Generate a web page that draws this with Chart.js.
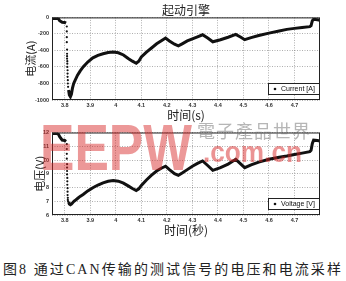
<!DOCTYPE html>
<html>
<head>
<meta charset="utf-8">
<script src="https://cdn.jsdelivr.net/npm/chart.js@4.4.1/dist/chart.umd.min.js"></script>
<style>
  body { margin: 0; width: 346px; height: 281px; overflow: hidden; position: relative; background: #fff; }
  canvas { position: absolute; left: 0; }
  #current { top: 0; }
  #voltage { top: 124px; }
  .wm { position: absolute; white-space: nowrap; pointer-events: none; transform-origin: 0 0; line-height: 1; }
  #eepw { left: 40px; top: 110px; font: bold 65px 'Liberation Sans', sans-serif; color: rgba(215, 40, 40, 0.48); }
  #cn { left: 197px; top: 117px; font: 18px 'Noto Sans CJK TC', sans-serif; letter-spacing: 1px; color: rgba(110, 110, 110, 0.5); }
  #dotcom { left: 203px; top: 135px; font: bold 30px 'Liberation Sans', sans-serif; color: rgba(215, 40, 40, 0.5); }
  #caption { position: absolute; left: 3px; top: 258px; white-space: nowrap; line-height: 1;
    font: 14px 'Liberation Serif', 'Noto Sans CJK SC', serif; color: #222; }
</style>
</head>
<body>
<canvas id="current" width="346" height="124"></canvas>
<canvas id="voltage" width="346" height="118"></canvas>
<div class="wm" id="eepw">EEPW</div>
<div class="wm" id="cn">電子產品世界</div>
<div class="wm" id="dotcom">.com.cn</div>
<div id="caption">图8 通过CAN传输的测试信号的电压和电流采样</div>
<script>
// sampled time axis (s), null marks the fast drop that only shows single samples
const timeS = [3.75, 3.76, 3.77, 3.775, 3.78, 3.79, 3.80, 3.805, 3.81,
  3.815, 3.818, 3.822, 3.826, 3.83, 3.835, 3.84, 3.85, 3.86, 3.872,
  3.89, 3.91, 3.93, 3.95, 3.97, 3.99, 4.01, 4.03, 4.05, 4.065,
  4.08, 4.09, 4.10, 4.12, 4.14, 4.16, 4.18, 4.195, 4.21, 4.23,
  4.245, 4.26, 4.28, 4.30, 4.32, 4.34, 4.36, 4.38, 4.41, 4.44,
  4.47, 4.49, 4.505, 4.53, 4.56, 4.60, 4.64, 4.67, 4.70, 4.73,
  4.76, 4.765, 4.77, 4.775, 4.79, 4.80];
const currentA = [-12, -12, -14, -16, -40, -60, -62, -70, null,
  -880, -940, -960, -930, -860, -800, -765, -700, -650, -600,
  -540, -490, -460, -440, -425, -420, -428, -455, -500, -530,
  -555, -530, -480, -420, -370, -320, -280, -250, -285, -325,
  -345, -320, -285, -260, -235, -210, -250, -295, -270, -240,
  -205, -240, -270, -245, -220, -190, -165, -145, -133, -122,
  -112, -100, -40, -22, -28, -35];
const voltageV = [11.93, 11.93, 11.92, 11.88, 11.7, 11.45, 11.42, 11.35, null,
  6.95, 6.8, 6.75, 6.8, 6.88, 6.98, 7.05, 7.2, 7.35, 7.49,
  7.75, 7.98, 8.18, 8.34, 8.45, 8.5, 8.46, 8.32, 8.1, 7.93,
  7.78, 7.9, 8.15, 8.55, 8.9, 9.2, 9.42, 9.55, 9.3, 9.0,
  8.88, 9.05, 9.3, 9.55, 9.75, 9.93, 9.6, 9.25, 9.45, 9.7,
  10.05, 9.7, 9.44, 9.65, 9.85, 10.05, 10.2, 10.29, 10.4, 10.5,
  10.61, 10.7, 11.2, 11.44, 11.42, 11.38];

// sparse samples during the drop
const dropTimeS = [3.808, 3.808, 3.808, 3.808, 3.809, 3.809, 3.809, 3.809, 3.810,
  3.810, 3.810, 3.811, 3.811, 3.811, 3.812, 3.812, 3.813];
const dropCurrentA = [-110, -170, -240, -300, -390, -440, -470, -500, -530,
  -560, -600, -640, -680, -720, -760, -800, -840];
const dropVoltageV = [11.15, 10.8, 10.45, 10.1, 9.7, 9.45, 9.2, 8.95, 8.7,
  8.45, 8.2, 7.95, 7.7, 7.45, 7.25, 7.1, 7.0];

// axis ticks
const timeTicks = [3.8, 3.9, 4.0, 4.1, 4.2, 4.3, 4.4, 4.5, 4.6, 4.7];
const timeTickLabels = ['3.8', '3.9', '4', '4.1', '4.2', '4.3', '4.4', '4.5', '4.6', '4.7'];
const currentTicks = [-1000, -800, -600, -400, -200, 0];
const voltageTicks = [6, 7, 8, 9, 10, 11, 12];

Chart.defaults.font.family = "'Liberation Sans', 'Noto Sans CJK SC', sans-serif";
Chart.defaults.color = '#222';

const cjk = "'Noto Sans CJK SC', sans-serif";
const toPoints = (xs, ys) => xs.map((x, i) => ({ x, y: ys[i] }));

// box round the plot plus a legend inside the lower right corner
const framePlugin = {
  id: 'frame',
  afterDraw(chart) {
    const { ctx, chartArea: a } = chart;
    ctx.save();
    ctx.strokeStyle = '#222';
    ctx.lineWidth = 1;
    ctx.strokeRect(a.left + 0.5, a.top + 0.5, a.right - a.left - 1, a.bottom - a.top - 1);
    const w = 51, h = 11, x = a.right - 52, y = a.bottom - 17;
    ctx.fillStyle = '#fff';
    ctx.fillRect(x, y, w, h);
    ctx.strokeRect(x + 0.5, y + 0.5, w, h);
    ctx.fillStyle = '#111';
    ctx.beginPath();
    ctx.arc(x + 7, y + h / 2 + 0.5, 1.3, 0, Math.PI * 2);
    ctx.fill();
    ctx.font = "7px 'Liberation Sans'";
    ctx.textBaseline = 'middle';
    ctx.fillText(chart.data.datasets[0].label, x + 13, y + h / 2 + 1);
    ctx.restore();
  }
};

const makeChart = (id, cfg) => new Chart(document.getElementById(id), {
  type: 'scatter',
  data: {
    datasets: [
      { label: cfg.label, data: toPoints(timeS, cfg.values), showLine: true, spanGaps: false,
        borderColor: '#111', borderWidth: 3, pointRadius: 0 },
      { label: cfg.label, data: toPoints(dropTimeS, cfg.drop), showLine: false,
        pointRadius: 1.1, pointBackgroundColor: '#111', pointBorderWidth: 0 },
    ]
  },
  options: {
    responsive: false,
    animation: false,
    layout: { padding: cfg.padding },
    plugins: {
      legend: { display: false },
      tooltip: { enabled: false },
      title: cfg.title ? {
        display: true, text: cfg.title, fullSize: false,
        font: { family: cjk, size: 12, weight: 'normal' }, color: '#222',
        padding: { top: 3, bottom: 0 },
      } : { display: false },
    },
    scales: {
      x: {
        type: 'linear', min: 3.75, max: 4.80,
        afterBuildTicks: (s) => { s.ticks = timeTicks.map(value => ({ value })); },
        afterFit: (s) => { s.height = cfg.xHeight; },
        ticks: { callback: (v, i) => timeTickLabels[i], font: { size: 5.5, weight: 'bold' }, color: '#333', padding: 2, maxRotation: 0 },
        grid: { color: 'rgba(0,0,0,0.4)', lineWidth: 0.8, drawTicks: false },
        border: { display: false, dash: [1, 1.5] },
        title: { display: true, text: cfg.xTitle, font: { family: cjk, size: 12 }, color: '#222', padding: { top: 0, bottom: cfg.xTitlePad } },
      },
      y: {
        min: cfg.yTicks[0], max: cfg.yTicks[cfg.yTicks.length - 1],
        afterBuildTicks: (s) => { s.ticks = cfg.yTicks.map(value => ({ value })); },
        afterFit: (s) => { s.width = 52; },
        ticks: { callback: (v) => String(v), font: { size: 5.5, weight: 'bold' }, color: '#333', padding: 3 },
        grid: { color: 'rgba(0,0,0,0.4)', lineWidth: 0.8, drawTicks: false },
        border: { display: false, dash: [1, 1.5] },
        title: { display: true, text: cfg.yTitle, font: { family: cjk, size: 11 }, color: '#222', padding: { top: cfg.yTitlePad, bottom: 0 } },
      },
    },
  },
  plugins: [framePlugin],
});

makeChart('current', {
  label: 'Current [A]', values: currentA, drop: dropCurrentA, yTicks: currentTicks,
  title: '起动引擎', xTitle: '时间(s)', yTitle: '电流(A)',
  padding: { left: 0, right: 26, top: 0, bottom: 0 }, xHeight: 24, xTitlePad: 1, yTitlePad: 24,
});

makeChart('voltage', {
  label: 'Voltage [V]', values: voltageV, drop: dropVoltageV, yTicks: voltageTicks,
  xTitle: '时间(秒)', yTitle: '电压(V)',
  padding: { left: 0, right: 26, top: 8.5, bottom: 0 }, xHeight: 27, xTitlePad: 4, yTitlePad: 33,
});

// fit watermark and caption widths to the picture
const fitWidth = (id, width) => {
  const el = document.getElementById(id);
  el.style.transform = `scaleX(${width / el.getBoundingClientRect().width})`;
};
fitWidth('eepw', 152);
fitWidth('dotcom', 99);
const cap = document.getElementById('caption');
const capChars = [...cap.textContent].length;
cap.style.letterSpacing = ((340 - cap.getBoundingClientRect().width) / capChars) + 'px';
</script>
</body>
</html>
